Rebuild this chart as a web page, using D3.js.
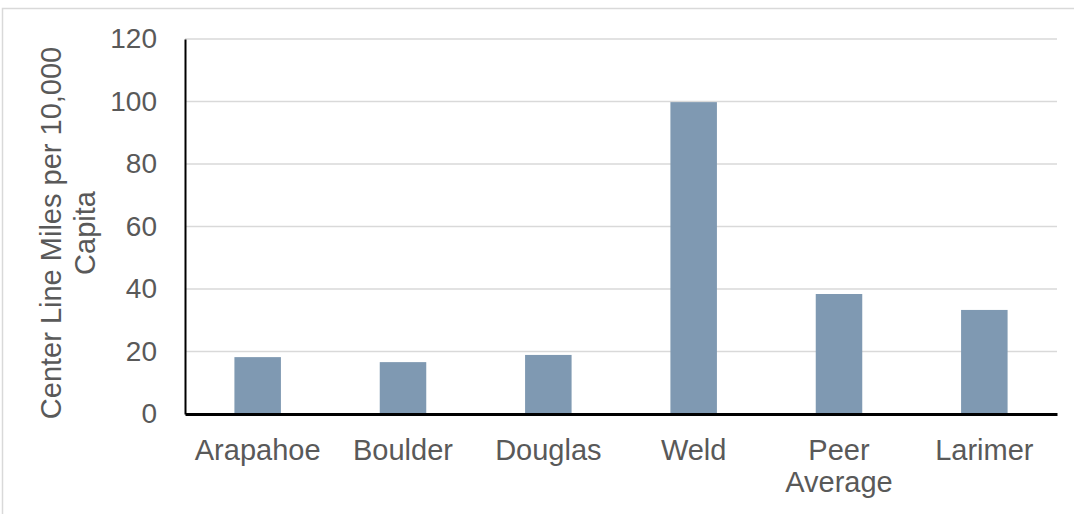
<!DOCTYPE html>
<html><head><meta charset="utf-8">
<script src="https://cdn.jsdelivr.net/npm/d3@7"></script>
<style>body{margin:0;background:#fff;}svg{display:block;font-family:"Liberation Sans",Arial,sans-serif;}</style>
</head><body><svg id="c" width="1074" height="514"></svg>
<script>
const categories = ["Arapahoe","Boulder","Douglas","Weld","Peer Average","Larimer"];
const values = [18.2, 16.6, 18.9, 99.8, 38.4, 33.3];
const yTicks = [0,20,40,60,80,100,120];
const yTitle = ["Center Line Miles per 10,000","Capita"];

const svg = d3.select("#c");
const m = {l:185, r:1057, t:39, b:414};
const x = d3.scaleBand().domain(categories).range([m.l, m.r]).paddingInner(0.68).paddingOuter(0.34);
const y = d3.scaleLinear().domain([0,120]).range([m.b, m.t]);

// frame
svg.append("path").attr("d","M2.5,514 V8.5 H1074").attr("fill","none").attr("stroke","#d9d9d9").attr("stroke-width",1.5);

// grid
svg.append("g").selectAll("line").data(yTicks.filter(d=>d>0)).join("line")
  .attr("x1",m.l).attr("x2",m.r).attr("y1",d=>y(d)).attr("y2",d=>y(d))
  .attr("stroke","#d9d9d9").attr("stroke-width",1.5);

// bars
svg.append("g").selectAll("rect").data(values).join("rect")
  .attr("x",(d,i)=>x(categories[i])).attr("width",x.bandwidth())
  .attr("y",d=>y(d)).attr("height",d=>y(0)-y(d)).attr("fill","#7f99b2");

// y axis
const ya = d3.axisLeft(y).tickValues(yTicks).tickSize(0).tickPadding(28);
const gy = svg.append("g").attr("transform",`translate(${m.l},0)`).call(ya);
gy.select(".domain").attr("stroke","#000").attr("stroke-width",2);
gy.selectAll("text").attr("fill","#595959").attr("font-size",28).attr("font-family","Liberation Sans, Arial, sans-serif");

// x axis
const xa = d3.axisBottom(x).tickSize(0).tickFormat("");
const gx = svg.append("g").attr("transform",`translate(0,${m.b})`).call(xa);
gx.select(".domain").attr("stroke","#000").attr("stroke-width",3);
const lbl = svg.append("g");
categories.forEach(c=>{
  const words = c.split(" ");
  const t = lbl.append("text").attr("x",x(c)+x.bandwidth()/2).attr("y",460)
    .attr("text-anchor","middle").attr("fill","#595959").attr("font-size",29);
  words.forEach((w,i)=>t.append("tspan").attr("x",x(c)+x.bandwidth()/2).attr("dy",i?32:0).text(w));
});

// y title
const yt = svg.append("text").attr("transform",`translate(0,233) rotate(-90)`)
  .attr("text-anchor","middle").attr("fill","#595959").attr("font-size",29);
yTitle.forEach((s,i)=>yt.append("tspan").attr("x",0).attr("y",i?95:61).text(s));
</script></body></html>
